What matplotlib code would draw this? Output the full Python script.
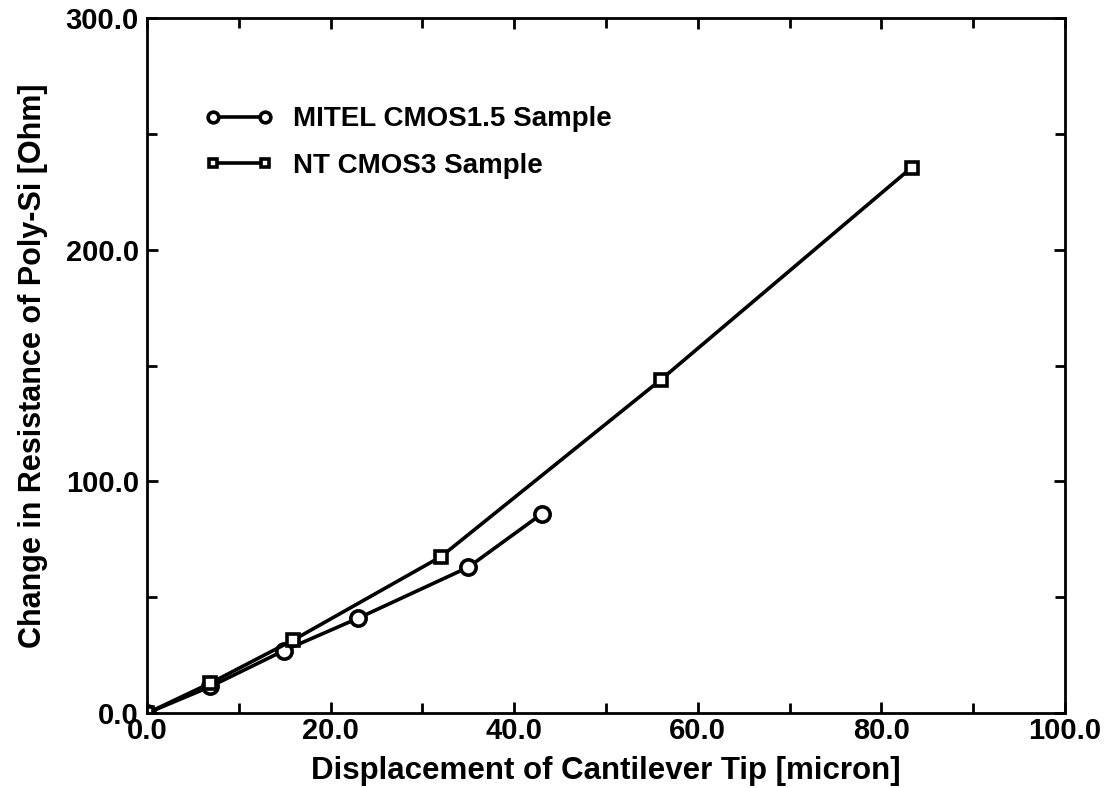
import matplotlib.pyplot as plt
from matplotlib.ticker import MultipleLocator, FormatStrFormatter

plt.rcParams["font.family"] = ["Liberation Sans", "DejaVu Sans"]

# MITEL CMOS1.5 sample
mitel_x = [0.0, 6.9, 14.9, 23.0, 35.0, 43.0]
mitel_y = [0.0, 11.5, 27.0, 41.0, 63.0, 86.0]

# NT CMOS3 sample
nt_x = [0.0, 6.9, 15.9, 32.0, 56.0, 83.3]
nt_y = [0.0, 13.0, 31.5, 67.5, 144.0, 235.5]

labels = ["MITEL CMOS1.5 Sample", "NT CMOS3 Sample"]

fig = plt.figure(figsize=(11.15, 7.88), dpi=100)
ax = fig.add_axes([0.132, 0.095, 0.823, 0.882])

ax.plot(mitel_x, mitel_y, color="black", lw=2.6, marker="o", ms=11,
        mfc="white", mec="black", mew=2.6, label=labels[0])
ax.plot(nt_x, nt_y, color="black", lw=2.6, marker="s", ms=9,
        mfc="white", mec="black", mew=2.6, label=labels[1])

ax.set_xlim(0, 100)
ax.set_ylim(0, 300)
ax.xaxis.set_major_locator(MultipleLocator(20))
ax.xaxis.set_minor_locator(MultipleLocator(10))
ax.yaxis.set_major_locator(MultipleLocator(100))
ax.yaxis.set_minor_locator(MultipleLocator(50))
ax.xaxis.set_major_formatter(FormatStrFormatter("%.1f"))
ax.yaxis.set_major_formatter(FormatStrFormatter("%.1f"))

ax.tick_params(which="both", direction="in", top=True, right=True, width=2)
ax.tick_params(which="major", length=8, labelsize=21)
ax.tick_params(axis="y", which="major", pad=6)
ax.tick_params(axis="x", which="major", pad=3)
ax.tick_params(which="minor", length=7)
for lab in ax.get_xticklabels() + ax.get_yticklabels():
    lab.set_fontweight("bold")
for s in ax.spines.values():
    s.set_linewidth(2)

ax.set_xlabel("Displacement of Cantilever Tip [micron]", fontsize=22.5,
              fontweight="bold", labelpad=8)
ax.set_ylabel("Change in Resistance of Poly-Si [Ohm]", fontsize=22,
              fontweight="bold", labelpad=13)

leg = ax.legend(loc="upper left", bbox_to_anchor=(0.035, 0.909), frameon=False,
                prop={"size": 20, "weight": "bold"}, numpoints=2,
                handlelength=2.5, handletextpad=0.7, labelspacing=0.75,
                markerscale=0.7)

fig.savefig("out.png", dpi=100)
